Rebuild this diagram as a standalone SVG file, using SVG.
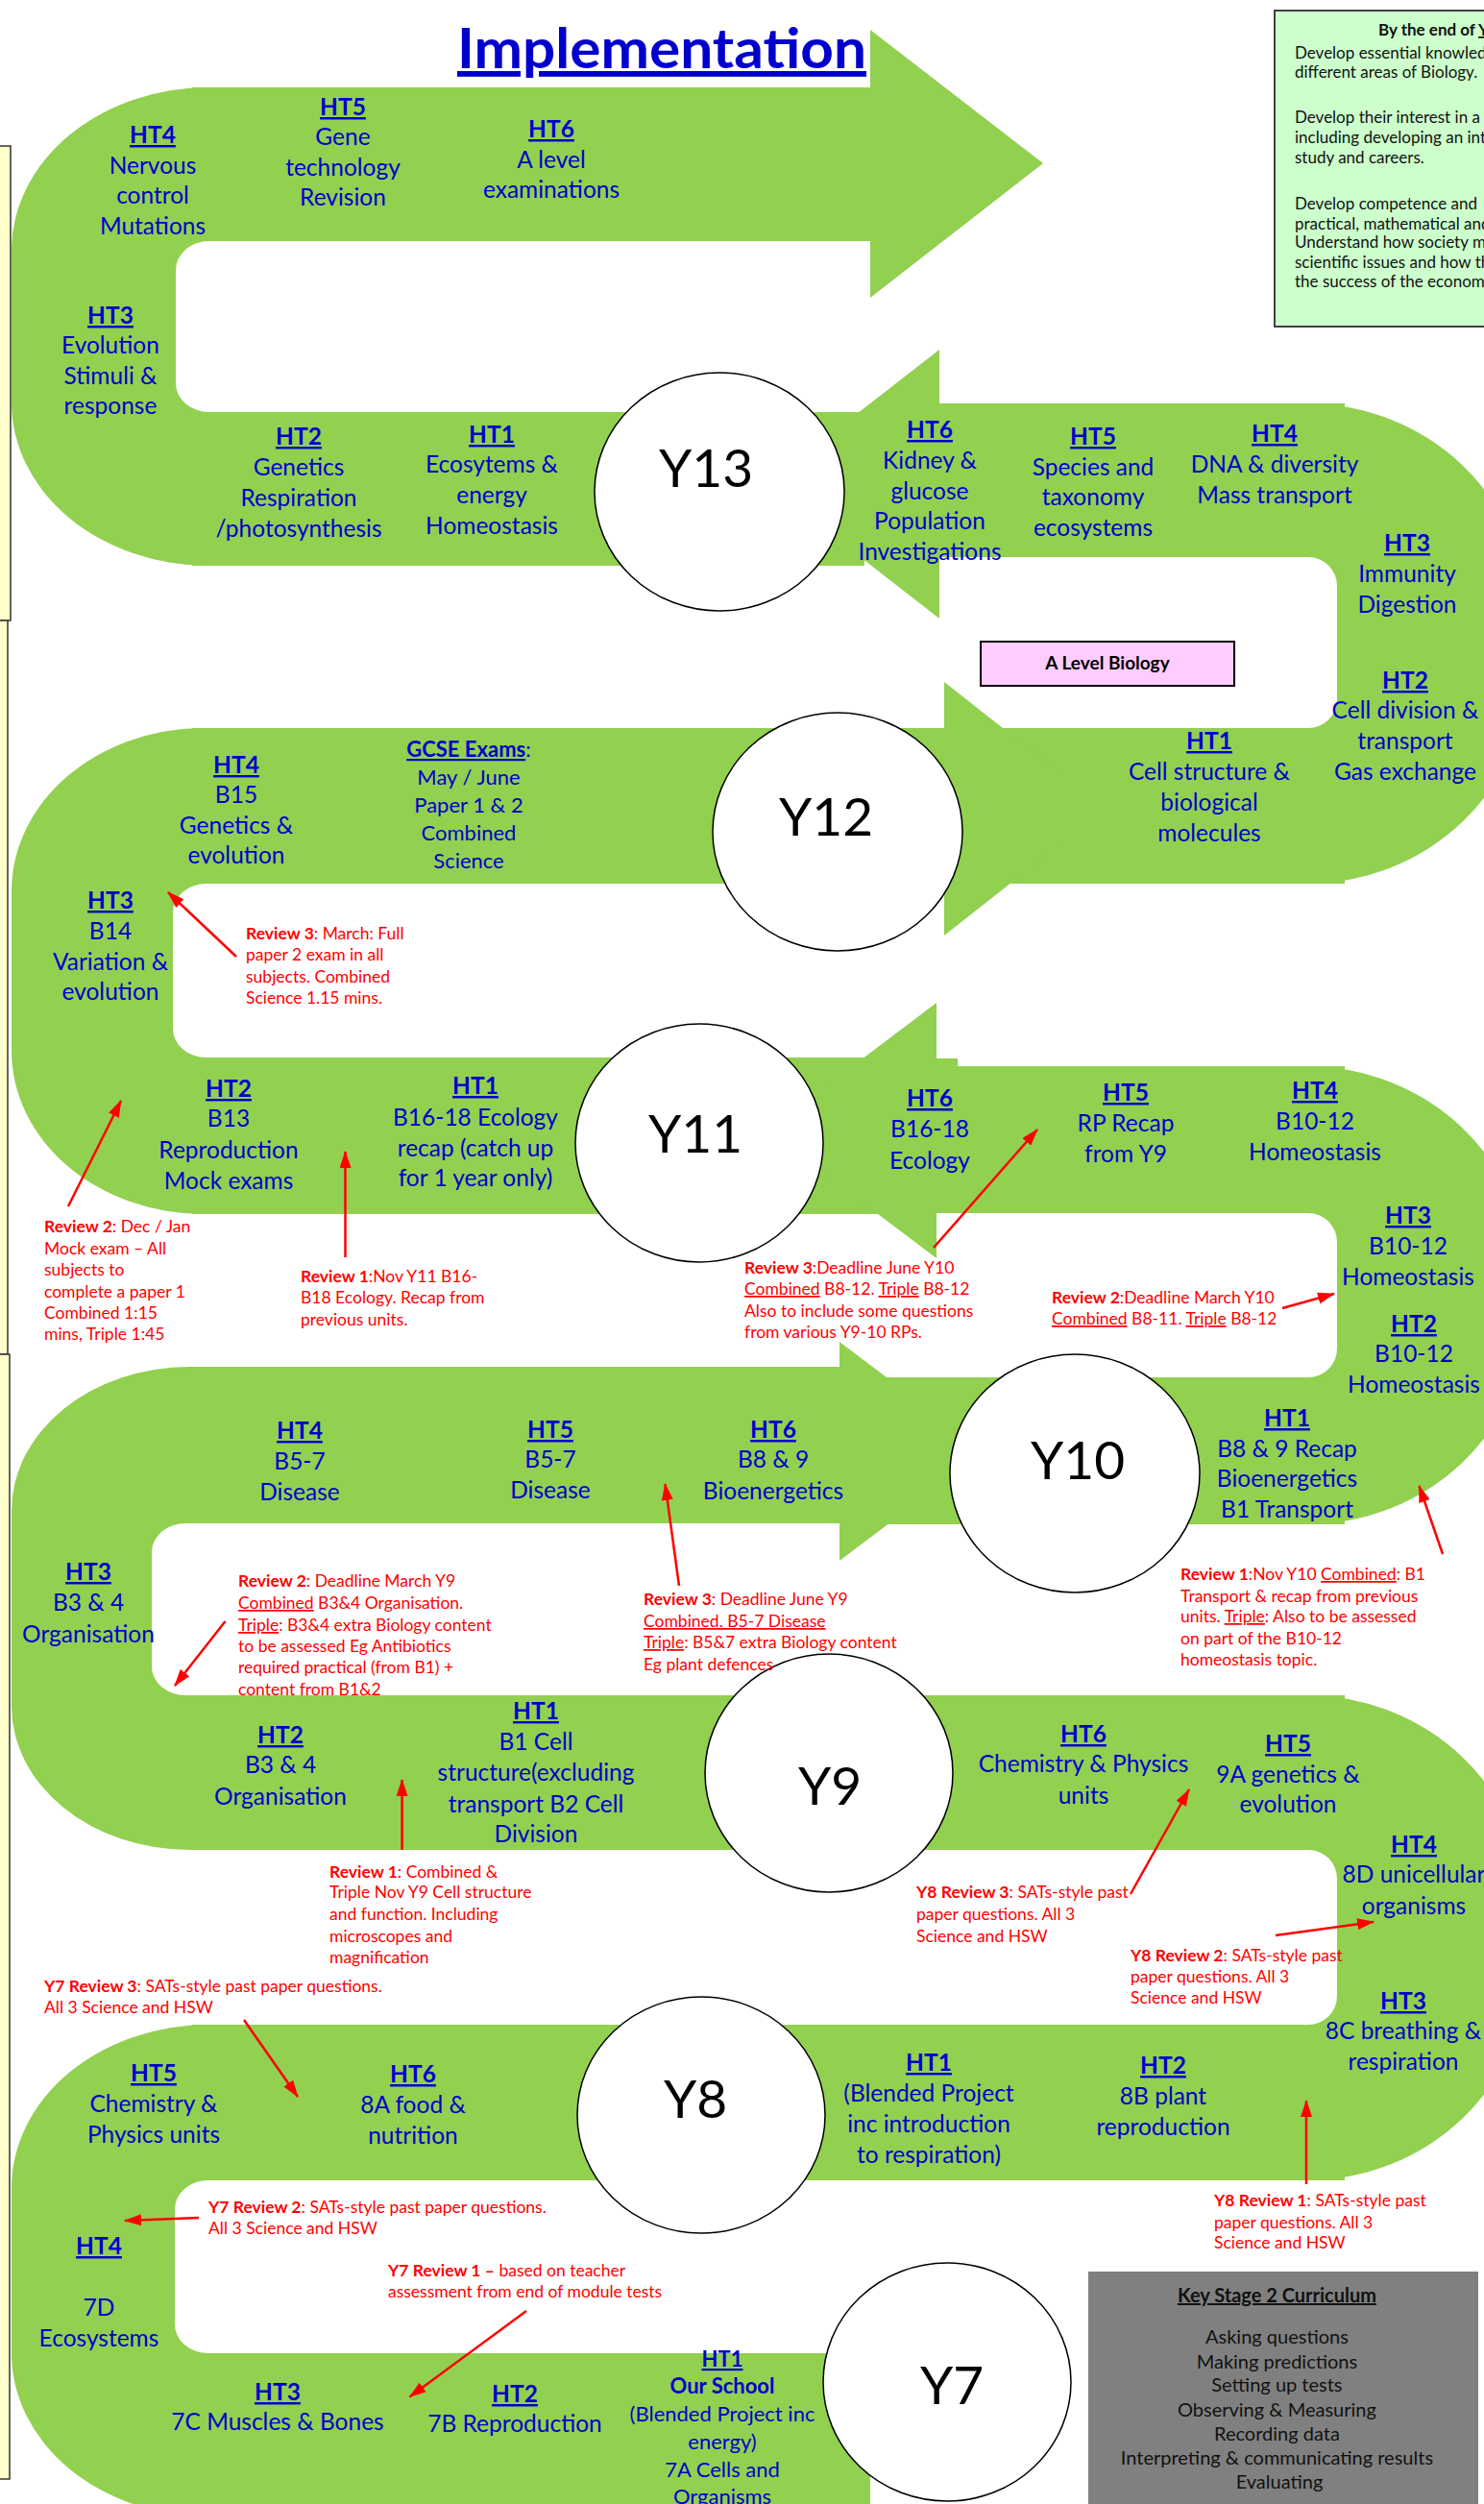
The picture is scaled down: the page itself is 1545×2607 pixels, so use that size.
<svg xmlns="http://www.w3.org/2000/svg" width="1545" height="2607" viewBox="0 0 1545 2607">
<defs>
<style>
.g{fill:#92D050}
.w{fill:#ffffff}
.yc{fill:#ffffff;stroke:#000;stroke-width:1.5}
.yl{font-family:Lato,'Noto Sans',sans-serif;font-size:55px;fill:#000;text-anchor:middle}
.lb{font-family:Lato,'Noto Sans',sans-serif;font-size:24.5px;fill:#0000CC;text-anchor:middle}
.sm{font-size:22px}
.hd{font-weight:bold;text-decoration:underline}
.rv{font-family:Lato,'Noto Sans',sans-serif;font-size:17.5px;fill:#FF0000}
.b{font-weight:bold}
.u{text-decoration:underline}
.ar{stroke:#FF0000;stroke-width:2.5;fill:none;marker-end:url(#ah)}
.yb{fill:#FFFFCC;stroke:#333;stroke-width:1.5}
.bx{font-family:Lato,'Noto Sans',sans-serif;font-size:17px;fill:#111}
.ks{font-family:Lato,'Noto Sans',sans-serif;font-size:20px;fill:#111;text-anchor:middle}
</style>
<marker id="ah" viewBox="0 0 18 12" refX="17" refY="6" markerWidth="18" markerHeight="12" markerUnits="userSpaceOnUse" orient="auto">
<path d="M0,0 L18,6 L0,12 z" fill="#FF0000"/>
</marker>
</defs>
<rect width="1545" height="2607" fill="#ffffff"/>

<g id="side-boxes">
<rect class="yb" x="-5" y="152" width="16" height="494"/>
<rect class="yb" x="-5" y="646" width="13" height="764"/>
<rect class="yb" x="-5" y="1410" width="15" height="1171"/>
</g>

<g id="band">
<rect class="g" x="200" y="91" width="706" height="160"/>
<polygon class="g" points="906,31 1086,170 906,310"/>
<rect class="g" x="200" y="429" width="700" height="160"/>
<polygon class="g" points="978,364 798,504 978,644"/>
<rect class="g" x="978" y="420" width="422" height="160"/>
<rect class="g" x="200" y="758" width="1200" height="162"/>
<polygon class="g" points="983,710 1151,842 983,974"/>
<rect class="g" x="200" y="1101" width="775" height="163"/>
<polygon class="g" points="975,1044 799,1177 975,1310"/>
<rect class="g" x="975" y="1102" width="22" height="10"/>
<rect class="g" x="975" y="1110" width="425" height="153"/>
<rect class="g" x="200" y="1423" width="674" height="163"/>
<polygon class="g" points="874,1397 1025,1511 874,1625"/>
<rect class="g" x="874" y="1434" width="526" height="153"/>
<rect class="g" x="200" y="1765" width="1200" height="161"/>
<rect class="g" x="200" y="2108" width="1200" height="162"/>
<rect class="g" x="200" y="2450" width="706" height="170"/>
<path class="g" d="M400,91 H217 A205,170 0 0 0 12,261 V419 A205,170 0 0 0 217,589 H400 Z"/>
<path class="w" d="M400,251 H218 A35,30 0 0 0 183,281 V399 A35,30 0 0 0 218,429 H400 Z"/>
<path class="g" d="M400,758 H212 A200,170 0 0 0 12,928 V1094 A200,170 0 0 0 212,1264 H400 Z"/>
<path class="w" d="M400,920 H215 A35,30 0 0 0 180,950 V1071 A35,30 0 0 0 215,1101 H400 Z"/>
<path class="g" d="M400,1423 H197 A185,150 0 0 0 12,1573 V1776 A185,150 0 0 0 197,1926 H400 Z"/>
<path class="w" d="M400,1586 H193 A35,30 0 0 0 158,1616 V1735 A35,30 0 0 0 193,1765 H400 Z"/>
<path class="g" d="M400,2108 H217 A205,170 0 0 0 12,2278 V2450 A205,170 0 0 0 217,2620 H400 Z"/>
<path class="w" d="M400,2270 H217 A35,30 0 0 0 182,2300 V2420 A35,30 0 0 0 217,2450 H400 Z"/>
<path class="g" d="M1100,420 H1360 A230,220 0 0 1 1590,640 V700 A230,220 0 0 1 1360,920 H1100 Z"/>
<path class="w" d="M1100,580 H1362 A30,30 0 0 1 1392,610 V728 A30,30 0 0 1 1362,758 H1100 Z"/>
<path class="g" d="M1100,1110 H1360 A230,220 0 0 1 1590,1330 V1367 A230,220 0 0 1 1360,1587 H1100 Z"/>
<path class="w" d="M1100,1263 H1362 A30,30 0 0 1 1392,1293 V1404 A30,30 0 0 1 1362,1434 H1100 Z"/>
<path class="g" d="M1100,1765 H1360 A230,220 0 0 1 1590,1985 V2050 A230,220 0 0 1 1360,2270 H1100 Z"/>
<path class="w" d="M1100,1926 H1362 A30,30 0 0 1 1392,1956 V2078 A30,30 0 0 1 1362,2108 H1100 Z"/>
</g>

<g id="title">
<text x="689" y="71" font-family="Lato,'Noto Sans',sans-serif" font-size="58" font-weight="bold" fill="#0000CC" text-anchor="middle" text-decoration="underline" textLength="426" lengthAdjust="spacingAndGlyphs">Implementation</text>
</g>

<g id="intent-box">
<rect x="1327" y="11" width="240" height="329" fill="#CCFFCC" stroke="#404040" stroke-width="2"/>
<text class="bx"><tspan x="1435" y="37" font-weight="bold">By the end of <tspan text-decoration="underline">Y</tspan></tspan>
<tspan x="1348" y="61">Develop essential knowled</tspan>
<tspan x="1348" y="81">different areas of Biology.</tspan>
<tspan x="1348" y="128">Develop their interest in a</tspan>
<tspan x="1348" y="149">including developing an int</tspan>
<tspan x="1348" y="170">study and careers.</tspan>
<tspan x="1348" y="218">Develop competence and</tspan>
<tspan x="1348" y="239">practical, mathematical and</tspan>
<tspan x="1348" y="258">Understand how society ma</tspan>
<tspan x="1348" y="279">scientific issues and how th</tspan>
<tspan x="1348" y="299">the success of the economy</tspan></text>
</g>

<g id="alevel-box">
<rect x="1021" y="668" width="264" height="46" fill="#FFCCFF" stroke="#000" stroke-width="2"/>
<text x="1153" y="697" font-family="Lato,'Noto Sans',sans-serif" font-size="19" font-weight="bold" fill="#000" text-anchor="middle">A Level Biology</text>
</g>

<g id="ks2-box">
<rect x="1133" y="2365" width="406" height="250" fill="#808080"/>
<text class="ks"><tspan x="1332" y="2397" font-weight="bold" text-decoration="underline">Key Stage 2 Curriculum</tspan>
<tspan x="1332" y="2440">Asking questions</tspan>
<tspan x="1332" y="2466">Making predictions</tspan>
<tspan x="1332" y="2490">Setting up tests</tspan>
<tspan x="1332" y="2516">Observing &amp; Measuring</tspan>
<tspan x="1332" y="2541">Recording data</tspan>
<tspan x="1332" y="2566">Interpreting &amp; communicating results</tspan>
<tspan x="1332" y="2591">Evaluating</tspan></text>
</g>

<g id="years">
<g id="y13"><ellipse class="yc" cx="749" cy="512" rx="130" ry="124"/><text class="yl" x="735" y="507">Y13</text></g>
<g id="y12"><ellipse class="yc" cx="872" cy="866" rx="130" ry="124"/><text class="yl" x="860" y="870">Y12</text></g>
<g id="y11"><ellipse class="yc" cx="728" cy="1190" rx="129" ry="124"/><text class="yl" x="724" y="1200">Y11</text></g>
<g id="y10"><ellipse class="yc" cx="1119" cy="1534" rx="130" ry="124"/><text class="yl" x="1122" y="1540">Y10</text></g>
<g id="y9"><ellipse class="yc" cx="863" cy="1846" rx="129" ry="124"/><text class="yl" x="864" y="1879">Y9</text></g>
<g id="y8"><ellipse class="yc" cx="730" cy="2202" rx="129" ry="123"/><text class="yl" x="724" y="2205">Y8</text></g>
<g id="y7"><ellipse class="yc" cx="986" cy="2480" rx="129" ry="124"/><text class="yl" x="991" y="2503">Y7</text></g>
</g>

<g id="topics">
<g id="y13-ht4"><text class="lb"><tspan class="hd" x="159" y="149">HT4</tspan><tspan x="159" y="181">Nervous</tspan><tspan x="159" y="212">control</tspan><tspan x="159" y="244">Mutations</tspan></text></g>
<g id="y13-ht5"><text class="lb"><tspan class="hd" x="357" y="120">HT5</tspan><tspan x="357" y="151">Gene</tspan><tspan x="357" y="183">technology</tspan><tspan x="357" y="214">Revision</tspan></text></g>
<g id="y13-ht6"><text class="lb"><tspan class="hd" x="574" y="143">HT6</tspan><tspan x="574" y="175">A level</tspan><tspan x="574" y="206">examinations</tspan></text></g>
<g id="y13-ht3"><text class="lb"><tspan class="hd" x="115" y="337">HT3</tspan><tspan x="115" y="368">Evolution</tspan><tspan x="115" y="400">Stimuli &amp;</tspan><tspan x="115" y="431">response</tspan></text></g>
<g id="y13-ht2"><text class="lb"><tspan class="hd" x="311" y="463">HT2</tspan><tspan x="311" y="495">Genetics</tspan><tspan x="311" y="527">Respiration</tspan><tspan x="311" y="559">/photosynthesis</tspan></text></g>
<g id="y13-ht1"><text class="lb"><tspan class="hd" x="512" y="461">HT1</tspan><tspan x="512" y="492">Ecosytems &amp;</tspan><tspan x="512" y="524">energy</tspan><tspan x="512" y="556">Homeostasis</tspan></text></g>
<g id="y12-ht6"><text class="lb"><tspan class="hd" x="968" y="456">HT6</tspan><tspan x="968" y="488">Kidney &amp;</tspan><tspan x="968" y="520">glucose</tspan><tspan x="968" y="551">Population</tspan><tspan x="968" y="583">Investigations</tspan></text></g>
<g id="y12-ht5"><text class="lb"><tspan class="hd" x="1138" y="463">HT5</tspan><tspan x="1138" y="495">Species and</tspan><tspan x="1138" y="526">taxonomy</tspan><tspan x="1138" y="558">ecosystems</tspan></text></g>
<g id="y12-ht4"><text class="lb"><tspan class="hd" x="1327" y="460">HT4</tspan><tspan x="1327" y="492">DNA &amp; diversity</tspan><tspan x="1327" y="524">Mass transport</tspan></text></g>
<g id="y12-ht3"><text class="lb"><tspan class="hd" x="1465" y="574">HT3</tspan><tspan x="1465" y="606">Immunity</tspan><tspan x="1465" y="638">Digestion</tspan></text></g>
<g id="y12-ht2"><text class="lb"><tspan class="hd" x="1463" y="717">HT2</tspan><tspan x="1463" y="748">Cell division &amp;</tspan><tspan x="1463" y="780">transport</tspan><tspan x="1463" y="812">Gas exchange</tspan></text></g>
<g id="y12-ht1"><text class="lb"><tspan class="hd" x="1259" y="780">HT1</tspan><tspan x="1259" y="812">Cell structure &amp;</tspan><tspan x="1259" y="844">biological</tspan><tspan x="1259" y="876">molecules</tspan></text></g>
<g id="y11-ht4"><text class="lb"><tspan class="hd" x="246" y="805">HT4</tspan><tspan x="246" y="836">B15</tspan><tspan x="246" y="868">Genetics &amp;</tspan><tspan x="246" y="899">evolution</tspan></text></g>
<g id="y11-gcse"><text class="lb sm"><tspan x="488" y="788"><tspan class="hd">GCSE Exams</tspan>:</tspan><tspan x="488" y="817">May / June</tspan><tspan x="488" y="846">Paper 1 &amp; 2</tspan><tspan x="488" y="875">Combined</tspan><tspan x="488" y="904">Science</tspan></text></g>
<g id="y11-ht3"><text class="lb"><tspan class="hd" x="115" y="946">HT3</tspan><tspan x="115" y="978">B14</tspan><tspan x="115" y="1010">Variation &amp;</tspan><tspan x="115" y="1041">evolution</tspan></text></g>
<g id="y11-ht2"><text class="lb"><tspan class="hd" x="238" y="1142">HT2</tspan><tspan x="238" y="1173">B13</tspan><tspan x="238" y="1206">Reproduction</tspan><tspan x="238" y="1238">Mock exams</tspan></text></g>
<g id="y11-ht1"><text class="lb"><tspan class="hd" x="495" y="1139">HT1</tspan><tspan x="495" y="1172">B16-18 Ecology</tspan><tspan x="495" y="1204">recap (catch up</tspan><tspan x="495" y="1235">for 1 year only)</tspan></text></g>
<g id="y10-ht6"><text class="lb"><tspan class="hd" x="968" y="1152">HT6</tspan><tspan x="968" y="1184">B16-18</tspan><tspan x="968" y="1217">Ecology</tspan></text></g>
<g id="y10-ht5"><text class="lb"><tspan class="hd" x="1172" y="1146">HT5</tspan><tspan x="1172" y="1178">RP Recap</tspan><tspan x="1172" y="1210">from Y9</tspan></text></g>
<g id="y10-ht4"><text class="lb"><tspan class="hd" x="1369" y="1144">HT4</tspan><tspan x="1369" y="1176">B10-12</tspan><tspan x="1369" y="1208">Homeostasis</tspan></text></g>
<g id="y10-ht3"><text class="lb"><tspan class="hd" x="1466" y="1274">HT3</tspan><tspan x="1466" y="1306">B10-12</tspan><tspan x="1466" y="1338">Homeostasis</tspan></text></g>
<g id="y10-ht2"><text class="lb"><tspan class="hd" x="1472" y="1387">HT2</tspan><tspan x="1472" y="1418">B10-12</tspan><tspan x="1472" y="1450">Homeostasis</tspan></text></g>
<g id="y10-ht1"><text class="lb"><tspan class="hd" x="1340" y="1485">HT1</tspan><tspan x="1340" y="1517">B8 &amp;  9 Recap</tspan><tspan x="1340" y="1548">Bioenergetics</tspan><tspan x="1340" y="1580">B1 Transport</tspan></text></g>
<g id="y9-ht4"><text class="lb"><tspan class="hd" x="312" y="1498">HT4</tspan><tspan x="312" y="1530">B5-7</tspan><tspan x="312" y="1562">Disease</tspan></text></g>
<g id="y9-ht5"><text class="lb"><tspan class="hd" x="573" y="1497">HT5</tspan><tspan x="573" y="1528">B5-7</tspan><tspan x="573" y="1560">Disease</tspan></text></g>
<g id="y9-ht6"><text class="lb"><tspan class="hd" x="805" y="1497">HT6</tspan><tspan x="805" y="1528">B8 &amp; 9</tspan><tspan x="805" y="1561">Bioenergetics</tspan></text></g>
<g id="y9-ht3"><text class="lb"><tspan class="hd" x="92" y="1645">HT3</tspan><tspan x="92" y="1677">B3 &amp; 4</tspan><tspan x="92" y="1710">Organisation</tspan></text></g>
<g id="y9-ht2"><text class="lb"><tspan class="hd" x="292" y="1815">HT2</tspan><tspan x="292" y="1846">B3 &amp; 4</tspan><tspan x="292" y="1879">Organisation</tspan></text></g>
<g id="y9-ht1"><text class="lb"><tspan class="hd" x="558" y="1790">HT1</tspan><tspan x="558" y="1822">B1 Cell</tspan><tspan x="558" y="1854">structure(excluding</tspan><tspan x="558" y="1887">transport B2 Cell</tspan><tspan x="558" y="1918">Division</tspan></text></g>
<g id="y8-ht6"><text class="lb"><tspan class="hd" x="1128" y="1814">HT6</tspan><tspan x="1128" y="1845">Chemistry &amp; Physics</tspan><tspan x="1128" y="1878">units</tspan></text></g>
<g id="y8-ht5"><text class="lb"><tspan class="hd" x="1341" y="1824">HT5</tspan><tspan x="1341" y="1856">9A genetics &amp;</tspan><tspan x="1341" y="1887">evolution</tspan></text></g>
<g id="y8-ht4"><text class="lb"><tspan class="hd" x="1472" y="1929">HT4</tspan><tspan x="1472" y="1960">8D unicellular</tspan><tspan x="1472" y="1993">organisms</tspan></text></g>
<g id="y8-ht3"><text class="lb"><tspan class="hd" x="1461" y="2092">HT3</tspan><tspan x="1461" y="2123">8C breathing &amp;</tspan><tspan x="1461" y="2155">respiration</tspan></text></g>
<g id="y8-ht5b"><text class="lb"><tspan class="hd" x="160" y="2167">HT5</tspan><tspan x="160" y="2199">Chemistry &amp;</tspan><tspan x="160" y="2231">Physics units</tspan></text></g>
<g id="y8-ht6b"><text class="lb"><tspan class="hd" x="430" y="2168">HT6</tspan><tspan x="430" y="2200">8A food &amp;</tspan><tspan x="430" y="2232">nutrition</tspan></text></g>
<g id="y8-ht1"><text class="lb"><tspan class="hd" x="967" y="2156">HT1</tspan><tspan x="967" y="2188">(Blended Project</tspan><tspan x="967" y="2220">inc introduction</tspan><tspan x="967" y="2252">to respiration)</tspan></text></g>
<g id="y8-ht2"><text class="lb"><tspan class="hd" x="1211" y="2159">HT2</tspan><tspan x="1211" y="2191">8B plant</tspan><tspan x="1211" y="2223">reproduction</tspan></text></g>
<g id="y7-ht4"><text class="lb"><tspan class="hd" x="103" y="2347">HT4</tspan><tspan x="103" y="2411">7D</tspan><tspan x="103" y="2443">Ecosystems</tspan></text></g>
<g id="y7-ht3"><text class="lb"><tspan class="hd" x="289" y="2499">HT3</tspan><tspan x="289" y="2530">7C Muscles &amp; Bones</tspan></text></g>
<g id="y7-ht2"><text class="lb"><tspan class="hd" x="536" y="2501">HT2</tspan><tspan x="536" y="2532">7B Reproduction</tspan></text></g>
<g id="y7-ht1"><text class="lb sm"><tspan class="hd" x="752" y="2464">HT1</tspan><tspan x="752" y="2492" font-weight="bold">Our School</tspan><tspan x="752" y="2521">(Blended Project inc</tspan><tspan x="752" y="2550">energy)</tspan><tspan x="752" y="2579">7A Cells and</tspan><tspan x="752" y="2607">Organisms</tspan></text></g>
</g>

<g id="reviews">
<text class="rv"><tspan x="256" y="978"><tspan class="b">Review 3</tspan>: March: Full</tspan><tspan x="256" y="1000">paper 2 exam in all</tspan><tspan x="256" y="1023">subjects. Combined</tspan><tspan x="256" y="1045">Science 1.15 mins.</tspan></text>
<text class="rv"><tspan x="46" y="1283"><tspan class="b">Review 2</tspan>: Dec / Jan</tspan><tspan x="46" y="1306">Mock exam – All</tspan><tspan x="46" y="1328">subjects to</tspan><tspan x="46" y="1351">complete a paper 1</tspan><tspan x="46" y="1373">Combined 1:15</tspan><tspan x="46" y="1395">mins, Triple 1:45</tspan></text>
<text class="rv"><tspan x="313" y="1335"><tspan class="b">Review 1</tspan>:Nov Y11 B16-</tspan><tspan x="313" y="1357">B18 Ecology. Recap from</tspan><tspan x="313" y="1380">previous units.</tspan></text>
<text class="rv"><tspan x="775" y="1326"><tspan class="b">Review 3</tspan>:Deadline June Y10</tspan><tspan x="775" y="1348"><tspan class="u">Combined</tspan> B8-12. <tspan class="u">Triple</tspan> B8-12</tspan><tspan x="775" y="1371">Also to include some questions</tspan><tspan x="775" y="1393">from various Y9-10 RPs.</tspan></text>
<text class="rv"><tspan x="1095" y="1357"><tspan class="b">Review 2</tspan>:Deadline March Y10</tspan><tspan x="1095" y="1379"><tspan class="u">Combined</tspan> B8-11. <tspan class="u">Triple</tspan> B8-12</tspan></text>
<text class="rv"><tspan x="248" y="1652"><tspan class="b">Review 2</tspan>: Deadline March Y9</tspan><tspan x="248" y="1675"><tspan class="u">Combined</tspan> B3&amp;4 Organisation.</tspan><tspan x="248" y="1698"><tspan class="u">Triple</tspan>: B3&amp;4 extra Biology content</tspan><tspan x="248" y="1720">to be assessed Eg Antibiotics</tspan><tspan x="248" y="1742">required practical (from B1) +</tspan><tspan x="248" y="1765">content from B1&amp;2</tspan></text>
<text class="rv"><tspan x="670" y="1671"><tspan class="b">Review 3</tspan>: Deadline June Y9</tspan><tspan x="670" y="1694" class="u">Combined. B5-7 Disease</tspan><tspan x="670" y="1716"><tspan class="u">Triple</tspan>: B5&amp;7 extra Biology content</tspan><tspan x="670" y="1739">Eg plant defences</tspan></text>
<text class="rv"><tspan x="1229" y="1645"><tspan class="b">Review 1</tspan>:Nov Y10 <tspan class="u">Combined</tspan>: B1</tspan><tspan x="1229" y="1668">Transport &amp; recap from previous</tspan><tspan x="1229" y="1689">units. <tspan class="u">Triple</tspan>: Also to be assessed</tspan><tspan x="1229" y="1712">on part of the B10-12</tspan><tspan x="1229" y="1734">homeostasis topic.</tspan></text>
<text class="rv"><tspan x="343" y="1955"><tspan class="b">Review 1</tspan>: Combined &amp;</tspan><tspan x="343" y="1976">Triple Nov Y9 Cell structure</tspan><tspan x="343" y="1999">and function. Including</tspan><tspan x="343" y="2022">microscopes and</tspan><tspan x="343" y="2044">magnification</tspan></text>
<text class="rv"><tspan x="954" y="1976"><tspan class="b">Y8 Review 3</tspan>: SATs-style past</tspan><tspan x="954" y="1999">paper questions.  All 3</tspan><tspan x="954" y="2022">Science and HSW</tspan></text>
<text class="rv"><tspan x="1177" y="2042"><tspan class="b">Y8 Review 2</tspan>: SATs-style past</tspan><tspan x="1177" y="2064">paper questions.  All 3</tspan><tspan x="1177" y="2086">Science and HSW</tspan></text>
<text class="rv"><tspan x="46" y="2074"><tspan class="b">Y7 Review 3</tspan>: SATs-style past paper questions.</tspan><tspan x="46" y="2096">All 3 Science and HSW</tspan></text>
<text class="rv"><tspan x="1264" y="2297"><tspan class="b">Y8 Review 1</tspan>: SATs-style past</tspan><tspan x="1264" y="2320">paper questions.  All 3</tspan><tspan x="1264" y="2341">Science and HSW</tspan></text>
<text class="rv"><tspan x="217" y="2304"><tspan class="b">Y7 Review 2</tspan>: SATs-style past paper questions.</tspan><tspan x="217" y="2326">All 3 Science and HSW</tspan></text>
<text class="rv"><tspan x="404" y="2370"><tspan class="b">Y7 Review 1 –</tspan> based on teacher</tspan><tspan x="404" y="2392">assessment from end of module tests</tspan></text>
</g>

<g id="connectors">
<line class="ar" x1="246" y1="996" x2="175" y2="929"/>
<line class="ar" x1="71" y1="1256" x2="126" y2="1146"/>
<line class="ar" x1="359.5" y1="1309" x2="359.5" y2="1199"/>
<line class="ar" x1="972" y1="1299" x2="1080" y2="1176"/>
<line class="ar" x1="1335" y1="1362" x2="1389" y2="1347"/>
<line class="ar" x1="234.5" y1="1688" x2="182" y2="1755"/>
<line class="ar" x1="707" y1="1651" x2="692.5" y2="1545"/>
<line class="ar" x1="1502" y1="1618" x2="1477.5" y2="1547"/>
<line class="ar" x1="418.6" y1="1926" x2="418.6" y2="1853"/>
<line class="ar" x1="1177" y1="1972" x2="1238" y2="1863"/>
<line class="ar" x1="1328" y1="2015" x2="1430" y2="2001"/>
<line class="ar" x1="254" y1="2103" x2="310" y2="2183"/>
<line class="ar" x1="1360" y1="2274" x2="1360" y2="2187"/>
<line class="ar" x1="207" y1="2309" x2="130" y2="2312"/>
<line class="ar" x1="548" y1="2406" x2="426.5" y2="2495.5"/>
</g>
</svg>
